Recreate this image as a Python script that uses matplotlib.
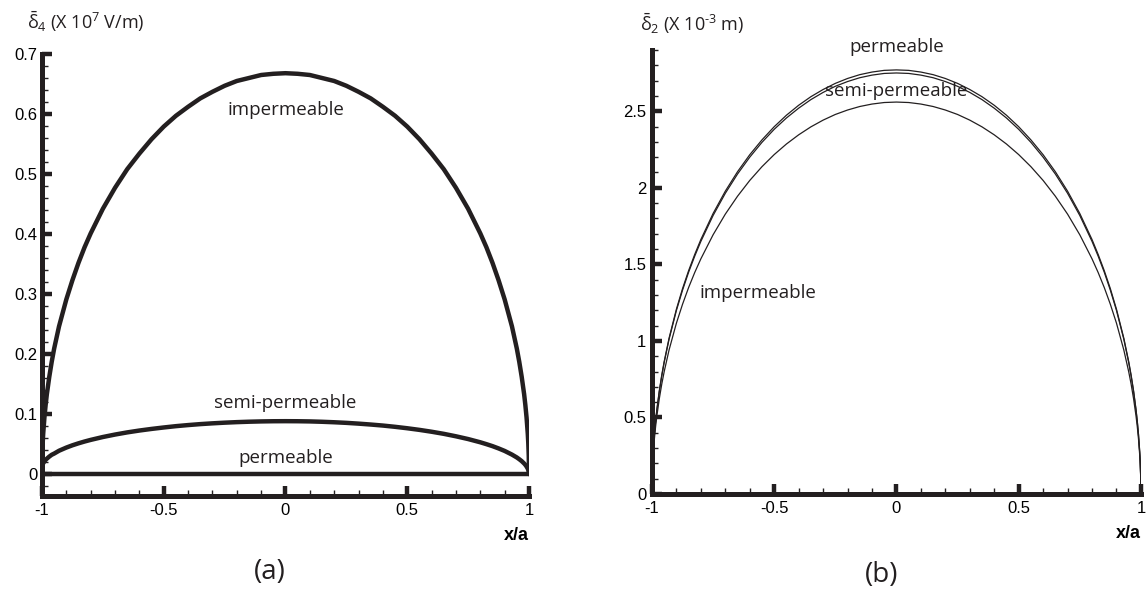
import matplotlib
matplotlib.use('Agg')
import matplotlib.pyplot as plt
from matplotlib.ticker import MultipleLocator

# sample positions along the crack (x/a)
x_pts = [-1.0, -0.999, -0.997, -0.995, -0.99, -0.985, -0.98, -0.97, -0.96, -0.95,
         -0.93, -0.9, -0.875, -0.85, -0.825, -0.8, -0.75, -0.7, -0.65, -0.6,
         -0.55, -0.5, -0.45, -0.4, -0.35, -0.3, -0.25, -0.2, -0.15, -0.1,
         -0.05, 0.0, 0.05, 0.1, 0.15, 0.2, 0.25, 0.3, 0.35, 0.4,
         0.45, 0.5, 0.55, 0.6, 0.65, 0.7, 0.75, 0.8, 0.825, 0.85,
         0.875, 0.9, 0.93, 0.95, 0.96, 0.97, 0.98, 0.985, 0.99, 0.995,
         0.997, 0.999, 1.0]

# (a) delta_4, units 1e7 V/m
imper_a = [0.0, 0.030, 0.052, 0.067, 0.094, 0.115, 0.133, 0.162, 0.187, 0.209,
           0.246, 0.291, 0.323, 0.352, 0.378, 0.401, 0.442, 0.477, 0.508, 0.534,
           0.558, 0.579, 0.597, 0.612, 0.626, 0.637, 0.647, 0.655, 0.660, 0.665,
           0.667, 0.668, 0.667, 0.665, 0.660, 0.655, 0.647, 0.637, 0.626, 0.612,
           0.597, 0.579, 0.558, 0.534, 0.508, 0.477, 0.442, 0.401, 0.378, 0.352,
           0.323, 0.291, 0.246, 0.209, 0.187, 0.162, 0.133, 0.115, 0.094, 0.067,
           0.052, 0.030, 0.0]
semi_a = [0.010, 0.0135, 0.016, 0.0178, 0.021, 0.0235, 0.0255, 0.029, 0.032, 0.034,
          0.0387, 0.044, 0.0478, 0.0511, 0.0541, 0.0568, 0.0616, 0.0657, 0.0693, 0.0724,
          0.0751, 0.0775, 0.0797, 0.0815, 0.0831, 0.0844, 0.0855, 0.0864, 0.0871, 0.0876,
          0.0879, 0.088, 0.0879, 0.0876, 0.0870, 0.0862, 0.0852, 0.0839, 0.0824, 0.0807,
          0.0786, 0.0762, 0.0735, 0.0704, 0.0669, 0.0628, 0.0582, 0.0528, 0.0497, 0.0464,
          0.0426, 0.0384, 0.0323, 0.0275, 0.0246, 0.0214, 0.0175, 0.0152, 0.0124, 0.0088,
          0.0068, 0.0039, 0.0]
perm_a_x = [-1.0, 1.0]
perm_a = [0.0, 0.0]

# (b) delta_2, units 1e-3 m
perm_b = [0.0, 0.124, 0.214, 0.277, 0.391, 0.478, 0.551, 0.673, 0.776, 0.865,
          1.018, 1.207, 1.341, 1.459, 1.565, 1.662, 1.832, 1.978, 2.105, 2.216,
          2.313, 2.399, 2.474, 2.539, 2.595, 2.642, 2.682, 2.714, 2.739, 2.756,
          2.767, 2.77, 2.767, 2.756, 2.739, 2.714, 2.682, 2.642, 2.595, 2.539,
          2.474, 2.399, 2.313, 2.216, 2.105, 1.978, 1.832, 1.662, 1.565, 1.459,
          1.341, 1.207, 1.018, 0.865, 0.776, 0.673, 0.551, 0.478, 0.391, 0.277,
          0.214, 0.124, 0.0]
semi_b = [0.0, 0.123, 0.213, 0.275, 0.388, 0.475, 0.547, 0.669, 0.770, 0.859,
          1.011, 1.199, 1.331, 1.449, 1.554, 1.650, 1.819, 1.964, 2.090, 2.200,
          2.297, 2.382, 2.456, 2.520, 2.576, 2.623, 2.663, 2.694, 2.719, 2.736,
          2.747, 2.75, 2.747, 2.736, 2.719, 2.694, 2.663, 2.623, 2.576, 2.520,
          2.456, 2.382, 2.297, 2.200, 2.090, 1.964, 1.819, 1.650, 1.554, 1.449,
          1.331, 1.199, 1.011, 0.859, 0.770, 0.669, 0.547, 0.475, 0.388, 0.275,
          0.213, 0.123, 0.0]
imper_b = [0.0, 0.114, 0.198, 0.256, 0.361, 0.442, 0.509, 0.622, 0.717, 0.799,
           0.941, 1.116, 1.239, 1.349, 1.447, 1.536, 1.693, 1.828, 1.945, 2.048,
           2.138, 2.217, 2.286, 2.346, 2.398, 2.442, 2.479, 2.508, 2.531, 2.547,
           2.557, 2.56, 2.557, 2.547, 2.531, 2.508, 2.479, 2.442, 2.398, 2.346,
           2.286, 2.217, 2.138, 2.048, 1.945, 1.828, 1.693, 1.536, 1.447, 1.349,
           1.239, 1.116, 0.941, 0.799, 0.717, 0.622, 0.509, 0.442, 0.361, 0.256,
           0.198, 0.114, 0.0]

x_ticks = [-1, -0.5, 0, 0.5, 1]
x_ticklabels = ['-1', '-0.5', '0', '0.5', '1']
y_ticks_a = [0, 0.1, 0.2, 0.3, 0.4, 0.5, 0.6, 0.7]
y_ticklabels_a = ['0', '0.1', '0.2', '0.3', '0.4', '0.5', '0.6', '0.7']
y_ticks_b = [0, 0.5, 1, 1.5, 2, 2.5]
y_ticklabels_b = ['0', '0.5', '1', '1.5', '2', '2.5']

ink = '#231f20'
plt.rcParams['mathtext.fontset'] = 'custom'
plt.rcParams['mathtext.rm'] = 'Open Sans'
plt.rcParams['mathtext.it'] = 'Open Sans'
plt.rcParams['mathtext.bf'] = 'Open Sans:bold'

fig = plt.figure(figsize=(11.47, 5.96), dpi=100)
ax1 = fig.add_axes([0.0366, 0.1678, 0.4246, 0.7416])
ax2 = fig.add_axes([0.5684, 0.1711, 0.4263, 0.7450])


def style(ax, yticks, ylabels, ymin, ymax, ypad):
    ax.set_xlim(-1, 1)
    ax.set_ylim(ymin, ymax)
    for s in ['top', 'right']:
        ax.spines[s].set_visible(False)
    for s in ['left', 'bottom']:
        ax.spines[s].set_linewidth(3.6)
        ax.spines[s].set_color(ink)
    ax.set_xticks(x_ticks)
    ax.set_xticklabels(x_ticklabels, fontfamily='Liberation Sans', fontsize=12)
    ax.set_yticks(yticks)
    ax.set_yticklabels(ylabels, fontfamily='Liberation Sans', fontsize=12)
    ax.xaxis.set_minor_locator(MultipleLocator(0.1))
    ax.tick_params(which='major', direction='in', length=7.5, width=3.2,
                   color=ink, labelcolor='black')
    ax.tick_params(which='minor', direction='in', length=4, width=1.0, color=ink)
    ax.tick_params(axis='x', which='major', pad=5)
    ax.tick_params(axis='y', which='major', pad=ypad)
    ax.text(1.0, -0.09, 'x/a', transform=ax.transAxes, ha='right', va='center',
            fontfamily='Liberation Sans', fontweight='bold', fontsize=13)


style(ax1, y_ticks_a, y_ticklabels_a, -0.0367, 0.7, 3)
ax1.yaxis.set_minor_locator(MultipleLocator(0.02))
ax1.plot(x_pts, imper_a, color=ink, lw=3.2, solid_capstyle='round')
ax1.plot(x_pts, semi_a, color=ink, lw=3.2, solid_capstyle='round')
ax1.plot(perm_a_x, perm_a, color=ink, lw=3.2)

ann = dict(fontfamily='Open Sans', fontsize=13.5, color=ink, ha='center', va='center')
ax1.text(0.0, 0.607, 'impermeable', **ann)
ax1.text(0.0, 0.118, 'semi-permeable', **ann)
ax1.text(0.0, 0.027, 'permeable', **ann)

style(ax2, y_ticks_b, y_ticklabels_b, 0, 2.9, 4)
ax2.yaxis.set_minor_locator(MultipleLocator(0.1))
ax2.plot(x_pts, perm_b, color=ink, lw=0.9)
ax2.plot(x_pts, semi_b, color=ink, lw=0.9)
ax2.plot(x_pts, imper_b, color=ink, lw=0.9)
ax2.text(0.0, 2.92, 'permeable', clip_on=False, **ann)
ax2.text(0.0, 2.63, 'semi-permeable', **ann)
ax2.text(-0.566, 1.31, 'impermeable', **ann)

fig.text(27 / 1147, 1 - 22 / 596, r'$\bar{\delta}_4$ (X 10$^7$ V/m)',
         fontfamily='Open Sans', fontsize=13, color=ink, ha='left', va='center')
fig.text(640 / 1147, 1 - 24 / 596, r'$\bar{\delta}_2$ (X 10$^{\text{-3}}$ m)',
         fontfamily='Open Sans', fontsize=13, color=ink, ha='left', va='center')

fig.text(270 / 1147, 1 - 572 / 596, '(a)', fontfamily='Open Sans', fontsize=20,
         color=ink, ha='center', va='center')
fig.text(882 / 1147, 1 - 575 / 596, '(b)', fontfamily='Open Sans', fontsize=20,
         color=ink, ha='center', va='center')

fig.savefig('out.png', dpi=100)
